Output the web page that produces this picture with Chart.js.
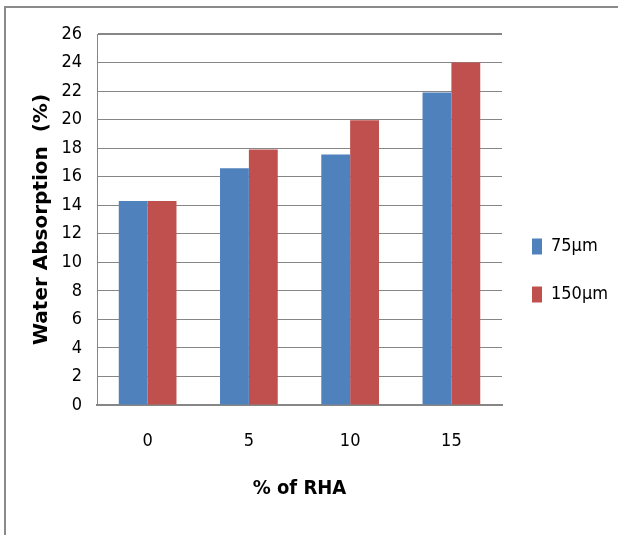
<!DOCTYPE html>
<html>
<head>
<meta charset="utf-8">
<script src="https://cdn.jsdelivr.net/npm/chart.js@4/dist/chart.umd.min.js"></script>
<style>
  html, body { margin: 0; padding: 0; background: #fff; }
  #frame {
    position: absolute; left: 4px; top: 6px; width: 620px; height: 540px;
    border-left: 2px solid #8a8a8a; border-top: 2px solid #8a8a8a;
  }
  #wrap { position: absolute; left: 0; top: 0; width: 618px; height: 535px; }
</style>
</head>
<body>
<div id="frame"></div>
<div id="wrap"><canvas id="absChart" width="618" height="535"></canvas></div>
<script>
// ===== data =====
const rhaLevels = ['0', '5', '10', '15'];
const series75 = [14.3, 16.6, 17.55, 21.9];
const series150 = [14.3, 17.9, 19.95, 24.0];
const yTicks = [0, 2, 4, 6, 8, 10, 12, 14, 16, 18, 20, 22, 24, 26];

const narrow = "'Liberation Sans Narrow', 'DejaVu Sans Condensed', 'Arial Narrow', sans-serif";
const gridGrey = '#868686';

const ctx = document.getElementById('absChart');
new Chart(ctx, {
  type: 'bar',
  data: {
    labels: rhaLevels,
    datasets: [
      { label: '75µm', data: series75, backgroundColor: '#4f81bd', borderWidth: 0 },
      { label: '150µm', data: series150, backgroundColor: '#c0504d', borderWidth: 0 }
    ]
  },
  options: {
    responsive: false,
    animation: false,
    devicePixelRatio: 1,
    layout: { padding: { top: 34, left: 30, right: 0, bottom: 28 } },
    datasets: { bar: { categoryPercentage: 0.57, barPercentage: 1.0 } },
    plugins: {
      tooltip: { enabled: false },
      legend: {
        position: 'right',
        maxWidth: 116,
        labels: {
          boxWidth: 10,
          boxHeight: 16,
          padding: 30,
          color: '#000',
          font: { family: narrow, size: 18 }
        }
      }
    },
    scales: {
      x: {
        grid: { display: false, drawTicks: false },
        border: { display: true, color: gridGrey, width: 2 },
        ticks: { color: '#000', padding: 26, font: { family: narrow, size: 18 } },
        title: {
          display: true, text: '% of RHA', color: '#000', padding: { top: 0, bottom: 6 },
          font: { family: narrow, size: 20, weight: 'bold' }
        },
        afterFit: s => { s.height = 102; }
      },
      y: {
        min: 0, max: 26,
        afterBuildTicks: s => { s.ticks = yTicks.map(v => ({ value: v })); },
        grid: {
          color: gridGrey,
          drawTicks: false,
          lineWidth: c => (c.tick && c.tick.value === 26) ? 2 : 1
        },
        border: { display: true, color: gridGrey, width: 1 },
        ticks: { color: '#000', padding: 15, font: { family: narrow, size: 18 } },
        title: {
          display: true, text: 'Water Absorption  (%)', color: '#000', padding: 0,
          font: { family: "'DejaVu Sans', sans-serif", size: 20, weight: 'bold' }
        },
        afterFit: s => { s.width = 97 - 30; }
      }
    }
  }
});
</script>
</body>
</html>
